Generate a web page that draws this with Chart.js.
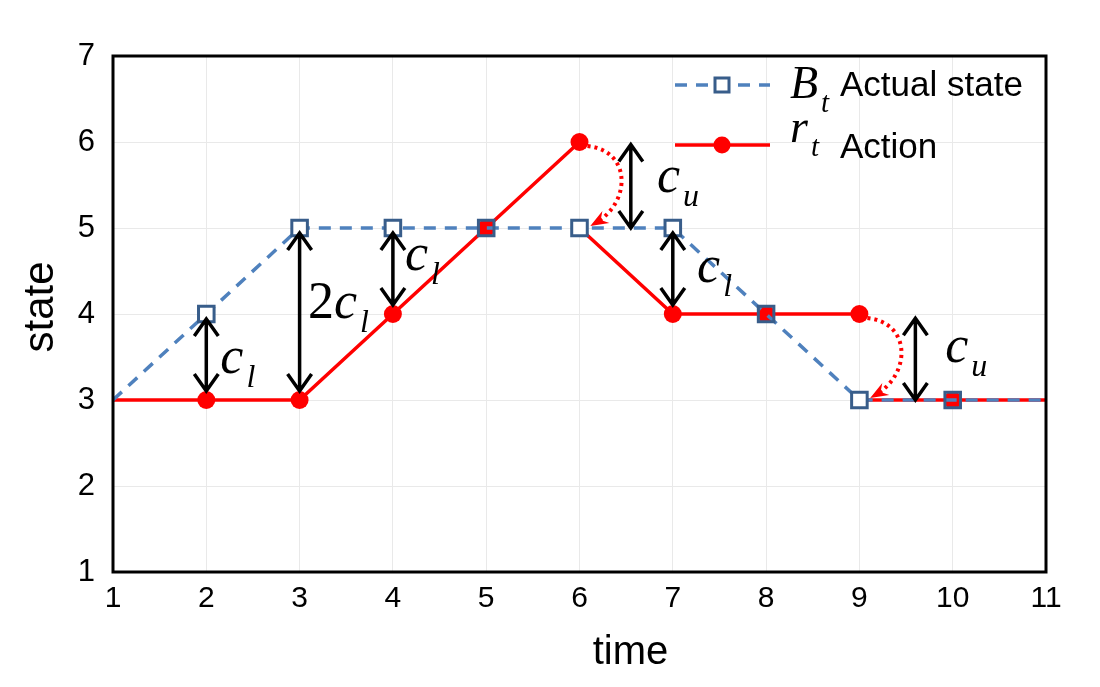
<!DOCTYPE html>
<html>
<head>
<meta charset="utf-8">
<script src="https://cdn.jsdelivr.net/npm/chart.js@4.4.1/dist/chart.umd.min.js"></script>
<style>
  html, body { margin: 0; padding: 0; background: #fff; }
  #wrap { width: 1100px; height: 687px; }
</style>
</head>
<body>
<div id="wrap"><canvas id="stateChart" width="1100" height="687"></canvas></div>
<script>
// time axis and the two series
const timeSteps = [1, 2, 3, 4, 5, 6, 7, 8, 9, 10, 11];
const actualState = [3, 4, 5, 5, 5, 5, 5, 4, 3, 3, 3];

// action jumps back at t=6 and t=9, null breaks the line there
const actionTime = [1, 2, 3, 4, 5, 6, 6, 6, 7, 8, 9, 9, 9, 10, 11];
const actionValue = [3, 3, 3, 4, 5, 6, null, 5, 4, 4, 4, null, 3, 3, 3];

// double arrows between the curves: time, low end, high end
const gapTime = [2, 3, 4, 6.55, 7, 9.6];
const gapLow = [3, 3, 4, 5, 4, 3];
const gapHigh = [4, 5, 5, 5.97, 5, 3.95];

// cost labels next to the arrows
const labelTime = [2.15, 3.09, 4.13, 6.83, 7.26, 9.92];
const labelState = [3.31, 3.95, 4.51, 5.42, 4.37, 3.44];
const labelText = ["c_l", "2c_l", "c_l", "c_u", "c_l", "c_u"];

// dotted jumps from the action down to the actual state
const jumpTime = [6, 9];
const jumpFrom = [6, 4];
const jumpTo = [5, 3];

const BLUE = "#4f81bd";
const BLUE_EDGE = "#385d8a";
const RED = "#ff0000";
const SERIF = '"Liberation Serif", "DejaVu Serif", serif';
const SANS = '"Liberation Sans", Arial, sans-serif';

// true if the action has a dot at this (t, value)
function actionDotAt(t, v) {
  for (let i = 0; i < actionTime.length; i++) {
    if (actionTime[i] === t && actionValue[i] === v && hasDot(i)) return true;
  }
  return false;
}
function hasDot(i) {
  const t = actionTime[i];
  if (t === timeSteps[0] || t === timeSteps[timeSteps.length - 1]) return false;
  if (actionValue[i] === null) return false;
  if (i > 0 && actionValue[i - 1] === null) return false;
  return true;
}

// draw text like "2c_l": digits upright, letters italic, subscript after _
function drawCost(ctx, px, py, text, size) {
  const parts = text.split("_");
  let cx = px;
  ctx.fillStyle = "#000";
  ctx.textAlign = "left";
  ctx.textBaseline = "alphabetic";
  for (const ch of parts[0]) {
    ctx.font = (/[0-9]/.test(ch) ? "" : "italic ") + size + "px " + SERIF;
    ctx.fillText(ch, cx, py);
    cx += ctx.measureText(ch).width;
  }
  if (parts[1]) {
    ctx.font = "italic " + Math.round(size * 0.62) + "px " + SERIF;
    ctx.fillText(parts[1], cx + 3, py + 14);
  }
}

function doubleArrow(ctx, x, y1, y2) {
  ctx.beginPath();
  ctx.moveTo(x, y1);
  ctx.lineTo(x, y2);
  ctx.moveTo(x - 12, y1 + 17);
  ctx.lineTo(x, y1);
  ctx.lineTo(x + 12, y1 + 17);
  ctx.moveTo(x - 12, y2 - 17);
  ctx.lineTo(x, y2);
  ctx.lineTo(x + 12, y2 - 17);
  ctx.stroke();
}

const decorPlugin = {
  id: "decor",
  afterDatasetsDraw(chart) {
    const { ctx, scales: { x, y } } = chart;
    ctx.save();

    // dotted curved jumps
    for (let i = 0; i < jumpTime.length; i++) {
      const px = x.getPixelForValue(jumpTime[i]);
      const py = y.getPixelForValue(jumpFrom[i]);
      const qy = y.getPixelForValue(jumpTo[i]);
      const h = qy - py;
      const sx = px + 8, sy = py + 4;
      const c1x = px + 52, c1y = py + 0.1 * h;
      const c2x = px + 52, c2y = py + 0.7 * h;
      const ex = px + 16, ey = qy - 5;
      ctx.strokeStyle = RED;
      ctx.lineWidth = 4;
      ctx.setLineDash([3, 4]);
      ctx.beginPath();
      ctx.moveTo(sx, sy);
      ctx.bezierCurveTo(c1x, c1y, c2x, c2y, ex, ey);
      ctx.stroke();
      ctx.setLineDash([]);
      // arrow head
      const ang = Math.atan2(ey - c2y, ex - c2x);
      const tipX = ex + 6 * Math.cos(ang), tipY = ey + 6 * Math.sin(ang);
      ctx.fillStyle = RED;
      ctx.beginPath();
      ctx.moveTo(tipX, tipY);
      ctx.lineTo(tipX - 18 * Math.cos(ang) + 7 * Math.sin(ang), tipY - 18 * Math.sin(ang) - 7 * Math.cos(ang));
      ctx.lineTo(tipX - 12 * Math.cos(ang), tipY - 12 * Math.sin(ang));
      ctx.lineTo(tipX - 18 * Math.cos(ang) - 7 * Math.sin(ang), tipY - 18 * Math.sin(ang) + 7 * Math.cos(ang));
      ctx.closePath();
      ctx.fill();
    }

    // double arrows
    ctx.strokeStyle = "#000";
    ctx.lineWidth = 3.5;
    for (let i = 0; i < gapTime.length; i++) {
      const onMarks = Number.isInteger(gapTime[i]);
      const px = x.getPixelForValue(gapTime[i]);
      const top = y.getPixelForValue(gapHigh[i]) + (onMarks ? 5 : 0);
      const bot = y.getPixelForValue(gapLow[i]) - (onMarks ? 9 : 0);
      doubleArrow(ctx, px, top, bot);
    }

    // labels
    for (let i = 0; i < labelText.length; i++) {
      drawCost(ctx, x.getPixelForValue(labelTime[i]), y.getPixelForValue(labelState[i]),
        labelText[i], labelText[i][0] === "2" ? 52 : 52);
    }
    ctx.restore();
  },
  afterDraw(chart) {
    const { ctx, chartArea: a } = chart;
    ctx.save();

    // plot frame
    ctx.strokeStyle = "#000";
    ctx.lineWidth = 3;
    ctx.strokeRect(a.left, a.top, a.right - a.left, a.bottom - a.top);

    // legend
    const lx0 = a.right - 371, lx1 = a.right - 276, mx = a.right - 324;
    ctx.lineWidth = 3.5;
    ctx.strokeStyle = BLUE;
    ctx.setLineDash([12, 9]);
    ctx.beginPath();
    ctx.moveTo(lx0, a.top + 29);
    ctx.lineTo(lx1, a.top + 29);
    ctx.stroke();
    ctx.setLineDash([]);
    ctx.fillStyle = "#fff";
    ctx.strokeStyle = BLUE_EDGE;
    ctx.lineWidth = 3;
    ctx.fillRect(mx - 7, a.top + 22, 14, 14);
    ctx.strokeRect(mx - 7, a.top + 22, 14, 14);

    ctx.strokeStyle = RED;
    ctx.lineWidth = 3.5;
    ctx.beginPath();
    ctx.moveTo(lx0, a.top + 89);
    ctx.lineTo(lx1, a.top + 89);
    ctx.stroke();
    ctx.fillStyle = RED;
    ctx.beginPath();
    ctx.arc(mx, a.top + 89, 8.5, 0, Math.PI * 2);
    ctx.fill();

    drawCost(ctx, a.right - 256, a.top + 42, "B_t", 46);
    drawCost(ctx, a.right - 256, a.top + 86, "r_t", 46);
    ctx.fillStyle = "#000";
    ctx.font = "35px " + SANS;
    ctx.textAlign = "left";
    ctx.fillText("Actual state", a.right - 206, a.top + 40);
    ctx.fillText("Action", a.right - 206, a.top + 102);

    // axis titles
    ctx.font = "40px " + SANS;
    ctx.textAlign = "center";
    ctx.textBaseline = "alphabetic";
    ctx.fillText("time", (a.left + a.right) / 2 + 51, 664);
    ctx.save();
    ctx.translate(53, 307);
    ctx.rotate(-Math.PI / 2);
    ctx.font = "42px " + SANS;
    ctx.fillText("state", 0, 0);
    ctx.restore();

    ctx.restore();
  }
};

const chartCtx = document.getElementById("stateChart").getContext("2d");

const stateChart = new Chart(chartCtx, {
  type: "line",
  data: {
    datasets: [
      {
        label: "Actual state",
        data: timeSteps.map((t, i) => ({ x: t, y: actualState[i] })),
        borderColor: BLUE,
        borderWidth: 3.5,
        borderDash: [12, 9],
        pointStyle: "rect",
        pointRadius: c => (c.raw.x === timeSteps[0] || c.raw.x === timeSteps[timeSteps.length - 1]) ? 0 : 11,
        pointBorderColor: BLUE_EDGE,
        pointBorderWidth: 3,
        pointBackgroundColor: c => actionDotAt(c.raw.x, c.raw.y) ? "rgba(0,0,0,0)" : "#fff",
        tension: 0
      },
      {
        label: "Action",
        data: actionTime.map((t, i) => ({ x: t, y: actionValue[i] })),
        borderColor: RED,
        borderWidth: 3.5,
        pointStyle: "circle",
        pointRadius: c => hasDot(c.dataIndex) ? 9 : 0,
        pointBackgroundColor: RED,
        pointBorderWidth: 0,
        spanGaps: false,
        tension: 0
      }
    ]
  },
  options: {
    responsive: false,
    animation: false,
    devicePixelRatio: 1,
    layout: { padding: { top: 56, right: 54, left: 0, bottom: 0 } },
    plugins: {
      legend: { display: false },
      tooltip: { enabled: false }
    },
    scales: {
      x: {
        type: "linear",
        min: 1,
        max: 11,
        afterFit: s => { s.height = 115; },
        afterBuildTicks: s => { s.ticks = timeSteps.map(v => ({ value: v })); },
        ticks: { color: "#000", font: { family: SANS, size: 30 }, padding: 9 },
        grid: { color: "#e9e9e9", lineWidth: 1, drawTicks: false },
        border: { display: false }
      },
      y: {
        min: 1,
        max: 7,
        afterFit: s => { s.width = 113; },
        ticks: { stepSize: 1, color: "#000", font: { family: SANS, size: 31 }, padding: 18 },
        grid: { color: "#e9e9e9", lineWidth: 1, drawTicks: false },
        border: { display: false }
      }
    }
  },
  plugins: [decorPlugin]
});
</script>
</body>
</html>
